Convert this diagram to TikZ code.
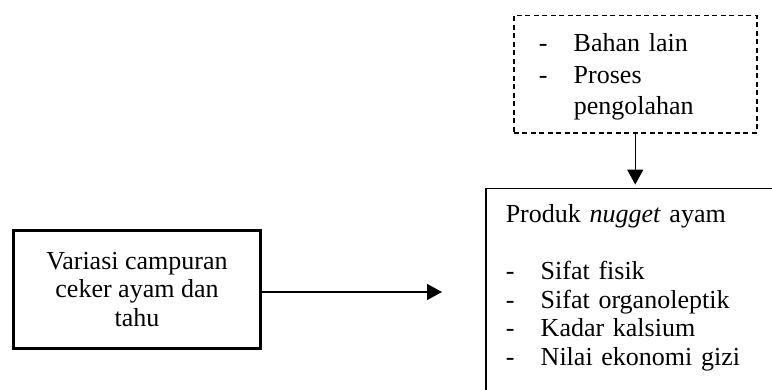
\documentclass[tikz,border=0pt]{standalone}
\usepackage{fontspec}
\setmainfont{Liberation Serif}
\usepackage{tikz}
\usetikzlibrary{arrows.meta,calc,positioning}

\tikzset{
  kotak/.style={draw,line width=3pt,minimum width=247pt,minimum height=118pt,align=center},
  putus/.style={draw,dash pattern=on 5pt off 3.5pt,line width=1.5pt,anchor=north west,text width=193pt,inner xsep=25pt,inner ysep=18pt,align=left,font=\fontsize{26}{31.5}\selectfont},
  hasil/.style={draw,line width=1.5pt,anchor=north west,text width=300pt,inner xsep=20pt,inner ysep=16pt,align=left},
  panah/.style={line width=1.5pt,-{Triangle[length=15pt,width=16pt]}}
}
\newcommand{\butir}[1]{\makebox[35pt][l]{-}#1}

\begin{document}
\begin{tikzpicture}[x=1pt,y=-1pt,font=\fontsize{26}{28.5}\selectfont]
\useasboundingbox (0,0) rectangle (772,390);
\clip (0,0) rectangle (772,390);
\node[kotak] (variasi) at (137,289.5) {Variasi campuran\\ceker ayam dan\\tahu};
\node[putus] (lain) at (513,15) {\butir{Bahan lain}\\\butir{Proses}\\\hspace*{35pt}\smash{pengolahan}};
\node[hasil] (produk) at (485,188) {Produk \textit{nugget} ayam\\\mbox{}\\\butir{Sifat fisik}\\\butir{Sifat organoleptik}\\\butir{Kadar kalsium}\\\butir{Nilai ekonomi gizi}\rule[-60pt]{0pt}{0pt}};
\coordinate (ujung1) at (442,292);
\coordinate (ujung2) at ($(lain.south)+(0,51)$);
\draw[panah] (variasi.east |- ujung1) -- (ujung1);
\draw[panah] (lain.south) -- (ujung2);
\end{tikzpicture}
\end{document}
